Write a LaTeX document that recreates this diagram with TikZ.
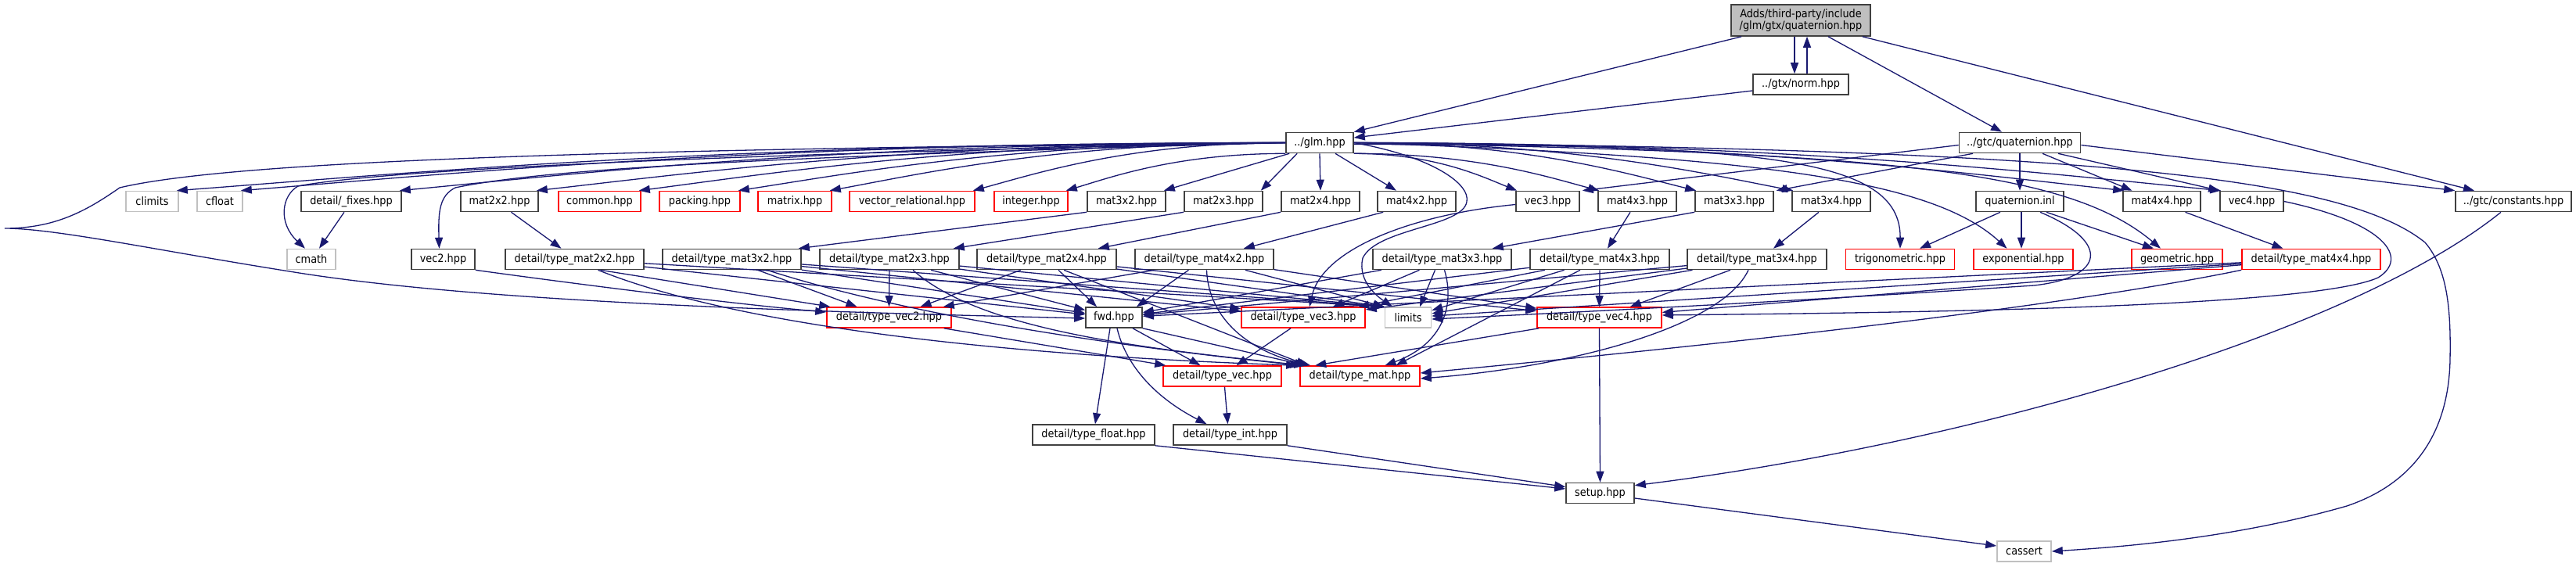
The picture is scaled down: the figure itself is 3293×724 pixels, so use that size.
\documentclass[tikz,border=0pt]{standalone}
\usepackage{fontspec}
\setmainfont{DejaVu Sans Condensed}
\usetikzlibrary{arrows.meta,calc}
\definecolor{mblue}{HTML}{191970}
\definecolor{gfill}{HTML}{BFBFBF}
\definecolor{gline}{HTML}{C0C0C0}
\definecolor{rline}{HTML}{FF0000}
\newcommand\myfan[2]{\draw[e] let \p1=(#1), \p2=(#2) in (\p1) .. controls ({\x1+0.5*(\x2-\x1)},\y1) and ({\x2+0.2*(\x1-\x2)},{\y2+0.35*(\y1-\y2)}) .. (\p2);}
\begin{document}
\begin{tikzpicture}[x=1pt,y=-1pt,
  every node/.style={font=\fontsize{14.3}{15}\selectfont, inner sep=0pt, minimum height=26pt, line width=1.6pt, text=black},
  bk/.style={draw=black!75},
  rd/.style={draw=rline},
  gy/.style={draw=gline},
  e/.style={draw=mblue, line width=1.3pt, -{Triangle[length=14pt,width=10pt]}}]
\fill[white] (0,0) rectangle (3293,724);
\useasboundingbox (0,0) rectangle (3293,724);

% nodes
\node[bk, fill=gfill, minimum width=178pt, minimum height=40pt, align=center] (Adds) at (2302,26) {Adds/third-party/include\\/glm/gtx/quaternion.hpp};
\node[bk, minimum width=122pt] (norm) at (2302,108) {../gtx/norm.hpp};
\node[bk, minimum width=86pt] (glm) at (1687,182.5) {../glm.hpp};
\node[bk, minimum width=155pt] (gtcq) at (2582,182.5) {../gtc/quaternion.hpp};
% row 1
\node[gy, minimum width=67pt] (climits) at (194.5,257.5) {climits};
\node[gy, minimum width=58pt] (cfloat) at (281,257.5) {cfloat};
\node[bk, minimum width=128pt] (fixes) at (449,257.5) {detail/\_fixes.hpp};
\node[bk, minimum width=99pt] (mat22) at (638.5,257.5) {mat2x2.hpp};
\node[rd, minimum width=105pt] (common) at (766.5,257.5) {common.hpp};
\node[rd, minimum width=103pt] (packing) at (894.5,257.5) {packing.hpp};
\node[rd, minimum width=94pt] (matrix) at (1016,257.5) {matrix.hpp};
\node[rd, minimum width=160pt] (vrel) at (1166,257.5) {vector\_relational.hpp};
\node[rd, minimum width=94pt] (integer) at (1318,257.5) {integer.hpp};
\node[bk, minimum width=100pt] (mat32) at (1440,257.5) {mat3x2.hpp};
\node[bk, minimum width=100pt] (mat23) at (1564,257.5) {mat2x3.hpp};
\node[bk, minimum width=100pt] (mat24) at (1688,257.5) {mat2x4.hpp};
\node[bk, minimum width=100pt] (mat42) at (1811,257.5) {mat4x2.hpp};
\node[bk, minimum width=81pt] (vec3) at (1978.5,257.5) {vec3.hpp};
\node[bk, minimum width=100pt] (mat43) at (2093,257.5) {mat4x3.hpp};
\node[bk, minimum width=100pt] (mat33) at (2217,257.5) {mat3x3.hpp};
\node[bk, minimum width=100pt] (mat34) at (2341,257.5) {mat3x4.hpp};
\node[bk, minimum width=112pt] (qinl) at (2582,257.5) {quaternion.inl};
\node[bk, minimum width=99pt] (mat44) at (2763.5,257.5) {mat4x4.hpp};
\node[bk, minimum width=81pt] (vec4) at (2878.5,257.5) {vec4.hpp};
\node[bk, minimum width=148pt] (consts) at (3213,257.5) {../gtc/constants.hpp};
% row 2
\node[gy, minimum width=62pt] (cmath) at (398,331.5) {cmath};
\node[bk, minimum width=81pt] (vec2) at (566.5,331.5) {vec2.hpp};
\node[bk, minimum width=177pt] (tm22) at (734.5,331.5) {detail/type\_mat2x2.hpp};
\node[bk, minimum width=177pt] (tm32) at (935.5,331.5) {detail/type\_mat3x2.hpp};
\node[bk, minimum width=178pt] (tm23) at (1137,331.5) {detail/type\_mat2x3.hpp};
\node[bk, minimum width=178pt] (tm24) at (1338,331.5) {detail/type\_mat2x4.hpp};
\node[bk, minimum width=177pt] (tm42) at (1539.5,331.5) {detail/type\_mat4x2.hpp};
\node[bk, minimum width=177pt] (tm33) at (1843.5,331.5) {detail/type\_mat3x3.hpp};
\node[bk, minimum width=178pt] (tm43) at (2045,331.5) {detail/type\_mat4x3.hpp};
\node[bk, minimum width=178pt] (tm34) at (2246,331.5) {detail/type\_mat3x4.hpp};
\node[rd, minimum width=139pt] (trig) at (2429,331.5) {trigonometric.hpp};
\node[rd, minimum width=127pt] (expo) at (2586.5,331.5) {exponential.hpp};
\node[rd, minimum width=116pt] (geom) at (2783,331.5) {geometric.hpp};
\node[rd, minimum width=177pt] (tm44) at (2954.5,331.5) {detail/type\_mat4x4.hpp};
% row 3
\node[rd, minimum width=159pt] (tv2) at (1136.5,406) {detail/type\_vec2.hpp};
\node[bk, minimum width=72pt] (fwd) at (1424,406) {fwd.hpp};
\node[rd, minimum width=158pt] (tv3) at (1666,406) {detail/type\_vec3.hpp};
\node[gy, minimum width=59pt] (limits) at (1800,406) {limits};
\node[rd, minimum width=159pt] (tv4) at (2044.5,406) {detail/type\_vec4.hpp};
% row 4/5
\node[rd, minimum width=151pt] (tvec) at (1562.5,481) {detail/type\_vec.hpp};
\node[rd, minimum width=153pt] (tmat) at (1738.5,481) {detail/type\_mat.hpp};
\node[bk, minimum width=156pt] (tfloat) at (1398,556) {detail/type\_float.hpp};
\node[bk, minimum width=145pt] (tint) at (1572.5,556) {detail/type\_int.hpp};
\node[bk, minimum width=87pt] (setup) at (2045.5,630.5) {setup.hpp};
\node[gy, minimum width=69pt] (cassert) at (2587.5,705) {cassert};

% top edges
\draw[e] ([xshift=14pt]Adds.south west) -- (glm.north east);
\draw[e] ([xshift=-8pt]Adds.south) -- ([xshift=-8pt]norm.north);
\draw[e] ([xshift=8pt]norm.north) -- ([xshift=8pt]Adds.south);
\draw[e] ([yshift=-8pt]norm.west) -- ([yshift=6.5pt]glm.east);
\draw[e] ([xshift=35pt]Adds.south) -- ([xshift=-23pt]gtcq.north);
\draw[e] ([xshift=-11pt]Adds.south east) -- ([xshift=-50pt]consts.north);

% glm fan left
\myfan{glm.west}{[xshift=-3pt]climits.north east}
\myfan{glm.west}{[xshift=-3pt]cfloat.north east}
\myfan{glm.west}{[xshift=-3pt]fixes.north east}
\myfan{glm.west}{[xshift=-3pt]mat22.north east}
\myfan{glm.west}{[xshift=-3pt]common.north east}
\myfan{glm.west}{[xshift=-3pt]packing.north east}
\myfan{glm.west}{[xshift=-3pt]matrix.north east}
\myfan{glm.west}{[xshift=-3pt]vrel.north east}
\myfan{glm.south west}{[xshift=-3pt]integer.north east}
\draw[e] ([xshift=5pt]glm.south west) -- ([xshift=-3pt]mat32.north east);
\draw[e] ([xshift=15pt]glm.south west) -- ([xshift=-3pt]mat23.north east);
\draw[e] (glm.west) .. controls (1000,195) and (500,215) .. (381,238) .. controls (360,250) and (355,285) .. ([xshift=-8pt]cmath.north);
\draw[e] (glm.west) .. controls (1000,200) and (700,215) .. (582,240) .. controls (562,250) and (560,270) .. ([xshift=-5pt]vec2.north);
\draw[e] (glm.west) .. controls (800,190) and (300,205) .. (153,240) .. controls (110,270) and (70,292) .. (6,292) .. controls (70,292) and (200,320) .. (370,347) .. controls (600,385) and (1000,398) .. ([yshift=-1pt]fwd.west);

% glm fan right
\draw[e] (glm.south) -- (mat24.north);
\draw[e] ([xshift=20pt]glm.south) -- ([xshift=-26pt]mat42.north);
\myfan{glm.south east}{[xshift=2pt]vec3.north west}
\myfan{glm.south east}{[xshift=2pt]mat43.north west}
\myfan{glm.east}{[xshift=2pt]mat33.north west}
\myfan{glm.east}{[xshift=2pt]mat34.north west}
\myfan{glm.east}{[xshift=2pt]mat44.north west}
\myfan{glm.east}{[xshift=2pt]vec4.north west}
\draw[e] ([yshift=-2pt]glm.east) .. controls (2250,185) and (2430,200) .. (trig.north);
\draw[e] (glm.east) .. controls (2250,200) and (2470,230) .. ([xshift=-21pt]expo.north);
\draw[e] (glm.east) .. controls (2400,195) and (2640,215) .. ([xshift=-21pt]geom.north);
\draw[e] (glm.east) .. controls (2700,190) and (3000,230) .. (3100,310) .. controls (3130,345) and (3133,400) .. (3132,460) .. controls (3130,560) and (3080,620) .. (3000,647) .. controls (2850,690) and (2700,700) .. (cassert.east);
\draw[e] (glm.east) .. controls (1830,200) and (1880,235) .. (1875,258) .. controls (1870,290) and (1760,292) .. (1742,330) .. controls (1735,360) and (1762,380) .. ([xshift=-20pt]limits.north);

% gtc/quaternion
\draw[e] (gtcq.south) -- (qinl.north);
\draw[e] ([xshift=29pt]gtcq.south) -- ([xshift=-38pt]mat44.north);
\draw[e] ([xshift=49pt]gtcq.south) -- (vec4.north west);
\draw[e] ([yshift=-3pt]gtcq.east) -- (consts.north west);
\draw[e] ([yshift=-3pt]gtcq.west) -- ([xshift=3pt]vec3.north east);
\draw[e] ([xshift=-60pt]gtcq.south) -- ([xshift=3pt]mat33.north east);

% quaternion.inl
\draw[e] ([xshift=-25pt]qinl.south) -- ([xshift=25pt]trig.north);
\draw[e] ([xshift=2pt]qinl.south) -- ([xshift=-2.5pt]expo.north);
\draw[e] ([xshift=34pt]qinl.south) -- ([xshift=-30pt]geom.north);
\draw[e] ([xshift=26pt]qinl.south) .. controls (2700,310) and (2690,355) .. (2600,365) .. controls (2300,385) and (2000,400) .. ([yshift=-2pt]limits.east);

% misc top-right
\draw[e] ([xshift=30pt]mat44.south) -- ([xshift=-36pt]tm44.north);
\draw[e] (vec4.east) .. controls (3050,285) and (3080,330) .. (3040,355) .. controls (2950,395) and (2400,400) .. ([yshift=3pt]tv4.east);
\draw[e] ([xshift=-16pt]consts.south) .. controls (3000,430) and (2500,570) .. ([yshift=-4pt]setup.north east);
\draw[e] ([yshift=-6.5pt]setup.east) -- ([yshift=7pt]cassert.west);

% row1 -> row2
\draw[e] ([xshift=15pt]mat22.south) -- ([xshift=-17pt]tm22.north);
\draw[e] ([xshift=-9pt]fixes.south) -- ([xshift=10pt]cmath.north);
\draw[e] (mat32.south west) -- ([xshift=-4pt]tm32.north east);
\draw[e] (mat23.south west) -- ([xshift=-8pt]tm23.north east);
\draw[e] (mat24.south west) -- ([xshift=-24pt]tm24.north east);
\draw[e] ([xshift=8pt]mat42.south west) -- ([xshift=-39pt]tm42.north east);
\draw[e] ([xshift=-9pt]mat43.south) -- ([xshift=10pt]tm43.north);
\draw[e] (mat33.south west) -- ([xshift=-25pt]tm33.north east);
\draw[e] ([xshift=-16pt]mat34.south) -- ([xshift=21pt]tm34.north);
\draw[e] ([yshift=-4pt]vec3.west) .. controls (1800,275) and (1690,320) .. ([xshift=8pt]tv3.north);
\draw[e] (vec2.south east) .. controls (750,365) and (950,390) .. ([yshift=7pt]tv2.west);

% tm22
\draw[e] ([xshift=33pt]tm22.south) -- ([xshift=5pt]tv2.north west);
\draw[e] (tm22) -- (fwd);
\draw[e] (tm22) -- (limits.north west);
\draw[e] ([xshift=30pt]tm22.south) .. controls (950,420) and (1300,455) .. ([xshift=-3pt]tmat.north west);
% tm32
\draw[e] ([xshift=33pt]tm32.south) -- ([xshift=-41pt]tv2.north);
\draw[e] (tm32) -- (tv3);
\draw[e] (tm32) -- (fwd);
\draw[e] (tm32) -- (limits.north west);
\draw[e] ([xshift=45pt]tm32.south) .. controls (1150,400) and (1400,440) .. ([xshift=2pt]tmat.north west);
% tm23
\draw[e] (tm23.south) -- (tv2.north);
\draw[e] (tm23) -- (tv3);
\draw[e] (tm23) -- (fwd);
\draw[e] (tm23) -- (limits.north west);
\draw[e] ([xshift=30pt]tm23.south) .. controls (1250,420) and (1450,445) .. ([xshift=7pt]tmat.north west);
% tm24
\draw[e] ([xshift=-33pt]tm24.south) -- ([xshift=40pt]tv2.north);
\draw[e] (tm24) -- (tv4);
\draw[e] ([xshift=15pt]tm24.south) -- ([xshift=-22pt]fwd.north);
\draw[e] (tm24) -- (limits.north west);
\draw[e] ([xshift=22pt]tm24.south) -- ([xshift=10pt]tmat.north west);
% tm42
\draw[e] ([xshift=-64pt]tm42.south) -- ([xshift=-11pt]tv2.north east);
\draw[e] (tm42) -- (tv4);
\draw[e] ([xshift=-20pt]tm42.south) -- ([xshift=29pt]fwd.north);
\draw[e] (tm42) -- (limits.north west);
\draw[e] ([xshift=3pt]tm42.south) .. controls (1545,410) and (1600,450) .. ([xshift=14pt]tmat.north west);
% tm33
\draw[e] ([xshift=-29pt]tm33.south) -- ([xshift=38pt]tv3.north);
\draw[e] (tm33) -- (fwd);
\draw[e] ([xshift=-9pt]tm33.south) -- ([xshift=15pt]limits.north);
\draw[e] ([xshift=3pt]tm33.south) .. controls (1860,390) and (1845,440) .. ([xshift=32pt]tmat.north);
% tm43
\draw[e] (tm43) -- (tv3);
\draw[e] (tm43.south) -- (tv4.north);
\draw[e] (tm43) -- (fwd);
\draw[e] (tm43) -- (limits);
\draw[e] ([xshift=-25pt]tm43.south) -- ([xshift=46pt]tmat.north);
% tm34
\draw[e] (tm34) -- (tv3);
\draw[e] ([xshift=-34pt]tm34.south) -- ([xshift=-41pt]tv4.north east);
\draw[e] (tm34) -- (fwd);
\draw[e] (tm34) -- (limits);
\draw[e] ([xshift=-11pt]tm34.south) .. controls (2200,420) and (2000,470) .. ([yshift=-3pt]tmat.east);
% tm44
\draw[e] (tm44) -- (tv4);
\draw[e] (tm44) -- (fwd);
\draw[e] (tm44) -- (limits);
\draw[e] (tm44.south west) .. controls (2600,400) and (2100,450) .. ([yshift=4pt]tmat.east);

% lower part
\draw[e] ([xshift=-5pt]fwd.south) -- ([xshift=2pt]tfloat.north);
\draw[e] ([xshift=4pt]fwd.south) .. controls (1440,470) and (1480,510) .. ([xshift=-30pt]tint.north);
\draw[e] ([xshift=24pt]fwd.south) -- ([xshift=-28pt]tvec.north);
\draw[e] (fwd.south east) -- ([xshift=8pt]tmat.north west);
\draw[e] ([xshift=3pt]tvec.south) -- ([xshift=-3pt]tint.north);
\draw[e] ([xshift=-10pt]tv2.south east) -- ([xshift=4pt]tvec.north west);
\draw[e] ([xshift=-16pt]tv3.south) -- ([xshift=18pt]tvec.north);
\draw[e] ([xshift=3pt]tv4.south west) -- ([xshift=20pt]tmat.north west);
\draw[e] (tv4.south) -- (setup.north);
\draw[e] (tfloat.south east) -- ([yshift=5.5pt]setup.west);
\draw[e] (tint.south east) -- ([yshift=8pt]setup.west);
\end{tikzpicture}
\end{document}
